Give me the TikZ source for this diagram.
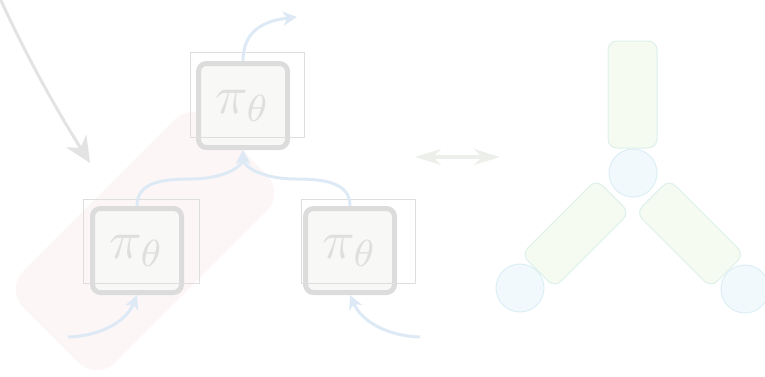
\documentclass[tikz,border=0pt]{standalone}
\usepackage{graphicx}
\usepackage{xcolor}
\usepackage{amsmath}
\usepackage{tikz}
\usetikzlibrary{arrows.meta}

\definecolor{boxgray}{HTML}{DCDCDC}
\definecolor{boxfill}{HTML}{F8F8F6}
\definecolor{framegray}{HTML}{DEDEDE}
\definecolor{textgray}{HTML}{DFDFDF}
\definecolor{flowblue}{HTML}{DDEAF6}
\definecolor{feedgray}{HTML}{E3E3E3}
\definecolor{bandpink}{HTML}{FCF6F7}
\definecolor{swapgray}{HTML}{EDF0EA}
\definecolor{rodfill}{HTML}{F5FBF0}
\definecolor{rodline}{HTML}{DDF0EC}
\definecolor{atomfill}{HTML}{F1F9FC}
\definecolor{atomline}{HTML}{DCEFF5}

\newcommand{\policytext}{\scalebox{5.4}{$\pi_\theta$}}

\tikzset{
  policy/.style={draw=boxgray, fill=boxfill, line width=5pt, rounded corners=8pt,
    minimum width=89pt, minimum height=84pt, text=textgray, inner sep=0pt},
  frame/.style={draw=framegray, line width=1pt, inner sep=0pt},
  flow/.style={draw=flowblue, line width=3pt, ->},
  rod/.style={draw=rodline, fill=rodfill, line width=1pt, rounded corners=9pt,
    inner sep=0pt},
  atom/.style={circle, draw=atomline, fill=atomfill, line width=1pt,
    minimum size=48pt, inner sep=0pt}
}

\begin{document}
\begin{tikzpicture}[x=1pt,y=-1pt,>={Stealth[length=14pt,width=14pt,inset=4pt]}]
\useasboundingbox (0,0) rectangle (765,376);

% ===== 背景条带 =====
\node[fill=bandpink, rounded corners=26pt, rotate=45, minimum width=266pt,
  minimum height=130pt] (band) at (145,241) {};

% ===== 策略框 =====
\node[policy] (top) at (243,105.5) {\policytext};
\node[policy] (left) at (137,250.5) {\policytext};
\node[policy] (right) at (350,250.5) {\policytext};

% ===== 细线外框 =====
\node[frame, minimum width=114pt, minimum height=85pt] (topf) at (247,94.5) {};
\node[frame, minimum width=116pt, minimum height=84pt] (leftf) at (141,241) {};
\node[frame, minimum width=114pt, minimum height=84pt] (rightf) at (358,241) {};

% ===== 端点 =====
\coordinate (out) at (297,17);
\coordinate (inl) at (68,337);
\coordinate (inr) at (420,337);
\coordinate (fb) at (-2,-6);
\coordinate (fbend) at (90,163);
\coordinate (swapl) at (415,157);
\coordinate (swapr) at (500,157);

% ===== 蓝色箭头 =====
\draw[flow] (top.north) .. controls (243,32) and (262,21) .. (out);
\draw[flow] (left.north) .. controls (137,184) and (158,179) .. (190,179)
  .. controls (225,179) and (243,166) .. (top.south);
\draw[flow] (right.north) .. controls (350,184) and (328,179) .. (296,179)
  .. controls (261,179) and (243,166) .. (top.south);
\draw[flow] (inl) .. controls (100,336) and (126,322) .. (left.south);
\draw[flow] (inr) .. controls (388,336) and (362,322) .. (right.south);

% ===== 灰色箭头 =====
\draw[feedgray, line width=3pt, -{Stealth[length=26pt,width=24pt,inset=8pt]}]
  (fb) .. controls (28,60) and (58,112) .. (fbend);

% ===== 双向箭头 =====
\draw[swapgray, line width=4pt,
  {Stealth[length=26pt,width=16pt,inset=8pt]}-{Stealth[length=26pt,width=16pt,inset=8pt]}]
  (swapl) -- (swapr);

% ===== 右侧结构 =====
\node[rod, minimum width=49pt, minimum height=107pt] (stem) at (632.5,94.5) {};
\node[rod, rotate=45, minimum width=106pt, minimum height=47pt] (armL) at (575.5,233.5) {};
\node[rod, rotate=-45, minimum width=106pt, minimum height=47pt] (armR) at (690,233.5) {};
\node[atom] (hub) at (633,173) {};
\node[atom] (endL) at (520,288) {};
\node[atom] (endR) at (745,289) {};
\end{tikzpicture}
\end{document}
